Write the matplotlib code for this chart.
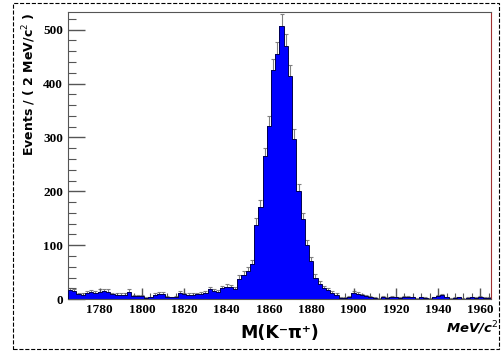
import numpy as np
import matplotlib
matplotlib.use("Agg")
import matplotlib.pyplot as plt
from matplotlib.patches import Rectangle
from matplotlib.ticker import MultipleLocator

# bin edges: 2 MeV bins from 1765 to 1965
edges = np.arange(1765, 1967, 2)
counts = [17, 15, 9, 8, 12, 13, 11, 14, 15, 14,
          9, 8, 8, 8, 14, 5, 6, 6, 2, 3,
          8, 10, 10, 4, 3, 4, 12, 9, 8, 8,
          9, 10, 11, 18, 15, 13, 20, 23, 22, 18,
          38, 45, 52, 65, 138, 170, 265, 322, 425, 455,
          506, 470, 414, 298, 200, 148, 100, 70, 40, 28,
          20, 17, 11, 8, 2, 2, 4, 12, 10, 7,
          5, 4, 2, 1, 4, 2, 4, 3, 2, 4,
          4, 3, 1, 3, 2, 1, 3, 6, 7, 3,
          1, 2, 3, 1, 2, 3, 2, 4, 2, 2]
xticks = [1780, 1800, 1820, 1840, 1860, 1880, 1900, 1920, 1940, 1960]
yticks = [0, 100, 200, 300, 400, 500]

counts = np.array(counts)
centers = 0.5 * (edges[:-1] + edges[1:])

fig = plt.figure(figsize=(5.01, 3.51), dpi=100)
ax = fig.add_axes([0.1357, 0.148, 0.8443, 0.818])

# error bars first so only the part above the bar shows
ax.errorbar(centers, counts, yerr=np.sqrt(counts), fmt='none',
            ecolor='#808080', elinewidth=0.8, capsize=1.5, capthick=0.8, zorder=1)
ax.stairs(counts, edges, fill=True, color='#0000ff', zorder=2)
ax.stairs(counts, edges, color='#000050', linewidth=0.7, zorder=3)

ax.set_xlim(1765, 1965)
ax.set_ylim(0, 533)
ax.set_xticks(xticks)
ax.set_yticks(yticks)
ax.xaxis.set_minor_locator(MultipleLocator(4))
ax.yaxis.set_minor_locator(MultipleLocator(20))
ax.tick_params(which='both', direction='in', colors='#555555',
               labelcolor='black', top=False, right=False)
ax.tick_params(which='major', length=12, width=1)
ax.tick_params(which='minor', length=6, width=0.8)
ax.tick_params(axis='x', which='major', length=8)
ax.tick_params(axis='x', which='minor', length=4)
for lab in ax.get_xticklabels() + ax.get_yticklabels():
    lab.set_fontfamily('Liberation Serif')
    lab.set_fontweight('bold')
    lab.set_fontsize(9.5)

for s in ['left', 'top', 'bottom']:
    ax.spines[s].set_color('#555555')
ax.spines['right'].set_color('#a03030')

ax.set_ylabel('Events / ( 2 MeV/c$^{2}$ )', fontsize=9, fontweight='bold',
              loc='top', labelpad=4)
fig.text(0.559, 0.05, 'M(K\u207b\u03c0\u207a)', fontsize=12.5, ha='center',
         va='center', fontweight='bold')
fig.text(0.89, 0.065, 'MeV/c$^{2}$', fontsize=9.5, ha='left', va='center',
         fontweight='bold', style='italic')

# dashed frame around the canvas
fig.patches.append(Rectangle((13 / 501, 2 / 351), 486 / 501, 346 / 351,
                             transform=fig.transFigure, fill=False,
                             linestyle='--', linewidth=0.8, edgecolor='black'))

fig.savefig('out.png', dpi=100)
